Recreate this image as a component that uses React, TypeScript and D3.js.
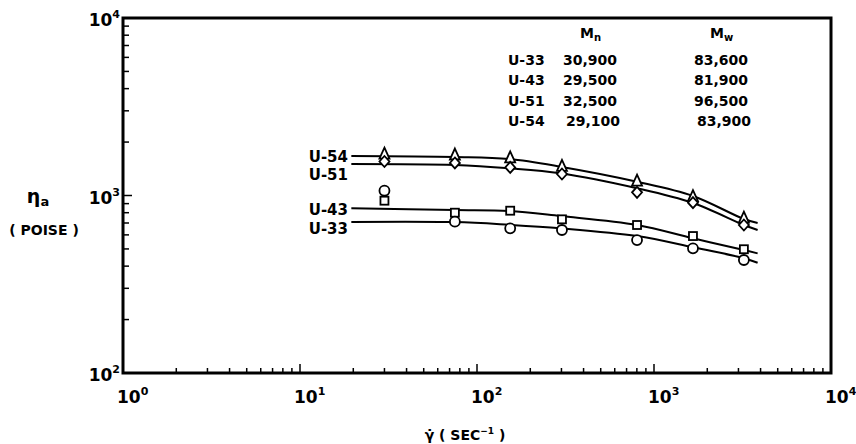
import React from 'react';
import * as d3 from 'd3';

// measured shear rates (1/sec) and apparent viscosities (poise)
const shearRate = [30, 75, 154, 302, 802, 1660, 3220];
const u54Eta = [1700, 1680, 1620, 1450, 1196, 980, 740];
const u51Eta = [1554, 1525, 1440, 1322, 1042, 911, 682];
const u43Eta = [935, 800, 821, 734, 682, 591, 498];
const u33Eta = [1064, 712, 653, 639, 561, 504, 433];

// fitted curves
const fitRate = [19.5, 75, 152, 296, 802, 1660, 3220, 3850];
const u54Fit = [1669, 1648, 1605, 1453, 1196, 994, 737, 700];
const u51Fit = [1505, 1485, 1423, 1334, 1098, 907, 682, 639];
const u43Fit = [847, 829, 818, 766, 682, 574, 493, 472];
const u33Fit = [710, 708, 684, 654, 591, 511, 443, 418];

// molecular weight table
const sampleNames = ['U-33', 'U-43', 'U-51', 'U-54'];
const mnValues = ['30,900', '29,500', '32,500', '29,100'];
const mwValues = ['83,600', '81,900', '96,500', '83,900'];

const xTickLabels = [1, 10, 100, 1000, 10000];
const yTickLabels = [100, 1000, 10000];

const FONT = '"DejaVu Sans", sans-serif';

const Marker = ({ kind, cx, cy }) => {
  const common = { fill: 'white', stroke: 'black', strokeWidth: 1.8 };
  if (kind === 'triangle')
    return <path d={`M${cx},${cy - 7} L${cx + 5},${cy + 4} L${cx - 5},${cy + 4} Z`} {...common} />;
  if (kind === 'diamond')
    return <path d={`M${cx},${cy - 5.5} L${cx + 5},${cy} L${cx},${cy + 5.5} L${cx - 5},${cy} Z`} {...common} />;
  if (kind === 'square')
    return <rect x={cx - 4} y={cy - 4} width={8} height={8} {...common} />;
  return <circle cx={cx} cy={cy} r={5} {...common} />;
};

const App = () => {
  const x = d3.scaleLog().domain([1, 10000]).range([123, 831]);
  const y = d3.scaleLog().domain([100, 10000]).range([373, 18]);

  const line = d3
    .line<[number, number]>()
    .x(d => x(d[0]))
    .y(d => y(d[1]))
    .curve(d3.curveCatmullRom);

  const series = [
    { name: 'U-54', kind: 'triangle', eta: u54Eta, fit: u54Fit, labelY: 162 },
    { name: 'U-51', kind: 'diamond', eta: u51Eta, fit: u51Fit, labelY: 180 },
    { name: 'U-43', kind: 'square', eta: u43Eta, fit: u43Fit, labelY: 215 },
    { name: 'U-33', kind: 'circle', eta: u33Eta, fit: u33Fit, labelY: 234 },
  ];

  const isMajor = v => Math.abs(Math.log10(v) - Math.round(Math.log10(v))) < 1e-9;

  return (
    <svg
      width={856}
      height={444}
      style={{ position: 'absolute', left: 0, top: 0, background: 'white' }}
      fontFamily={FONT}
    >
      {/* ticks, inward on left and bottom */}
      {x.ticks().filter(v => v > 1 && v < 10000).map((v, i) => (
        <line key={'xt' + i} x1={x(v)} x2={x(v)} y1={373} y2={373 - (isMajor(v) ? 9 : 5)}
          stroke="black" strokeWidth={1.5} />
      ))}
      {y.ticks().filter(v => v > 100 && v < 10000).map((v, i) => (
        <line key={'yt' + i} x1={123} x2={123 + (isMajor(v) ? 9 : 6)} y1={y(v)} y2={y(v)}
          stroke="black" strokeWidth={1.5} />
      ))}

      {/* frame */}
      <rect x={123} y={18} width={708} height={355} fill="none" stroke="black" strokeWidth={3} />

      {/* tick labels */}
      {xTickLabels.map((v, i) => (
        <text key={'xl' + i} x={x(v) - 6} y={403} fontSize={17} fontWeight="bold">
          10<tspan fontSize={11} dy={-8}>{Math.round(Math.log10(v))}</tspan>
        </text>
      ))}
      {yTickLabels.map((v, i) => (
        <text key={'yl' + i} x={120} y={y(v) + 8} fontSize={17} fontWeight="bold" textAnchor="end">
          10<tspan fontSize={11} dy={-8}>{Math.round(Math.log10(v))}</tspan>
        </text>
      ))}

      {/* axis titles */}
      <text x={465} y={440} fontSize={14} fontWeight="bold" textAnchor="middle">
        γ̇ ( SEC<tspan fontSize={9} dy={-6}>−1</tspan><tspan dy={6}> )</tspan>
      </text>
      <text x={38} y={203} fontSize={19} fontWeight="bold" textAnchor="middle">
        η<tspan fontSize={13} dy={3}>a</tspan>
      </text>
      <text x={44} y={235} fontSize={14} fontWeight="bold" textAnchor="middle">
        ( POISE )
      </text>

      {/* fitted curves and points */}
      {series.map(s => (
        <g key={s.name}>
          <path d={line(fitRate.map((r, i) => [r, s.fit[i]]))} fill="none" stroke="black" strokeWidth={2} />
          <text x={348} y={s.labelY} fontSize={15} fontWeight="bold" textAnchor="end">{s.name}</text>
        </g>
      ))}
      {series.map(s => (
        <g key={s.name + 'pts'}>
          {shearRate.map((r, i) => (
            <Marker key={i} kind={s.kind} cx={x(r)} cy={y(s.eta[i])} />
          ))}
        </g>
      ))}

      {/* Mn / Mw table */}
      <text x={580} y={38} fontSize={14} fontWeight="bold">
        M<tspan fontSize={10} dy={3}>n</tspan>
      </text>
      <text x={710} y={38} fontSize={14} fontWeight="bold">
        M<tspan fontSize={10} dy={3}>w</tspan>
      </text>
      {sampleNames.map((n, i) => (
        <g key={n} fontSize={14} fontWeight="bold">
          <text x={508} y={65 + i * 20.3}>{n}</text>
          <text x={i === 3 ? 566 : 563} y={65 + i * 20.3}>{mnValues[i]}</text>
          <text x={i === 3 ? 697 : 694} y={65 + i * 20.3}>{mwValues[i]}</text>
        </g>
      ))}
    </svg>
  );
};

export default App;
